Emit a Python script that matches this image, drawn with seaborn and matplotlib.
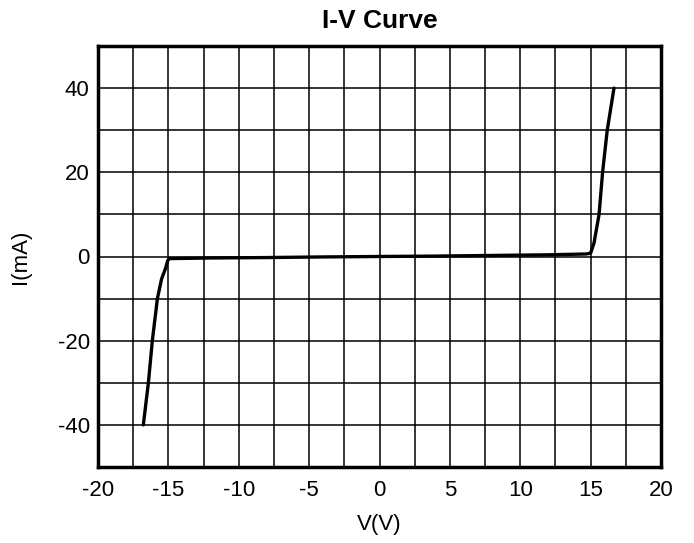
import matplotlib
matplotlib.use("Agg")
import matplotlib.pyplot as plt
import seaborn as sns
import pandas as pd
from matplotlib.ticker import MultipleLocator

voltage = [-16.78, -16.42, -16.14, -15.78, -15.48, -15.19, -15.05, -14.93,
           -12.0, -8.0, -4.0, 0.0, 4.0, 8.0, 12.0, 14.7, 15.0, 15.24, 15.6,
           15.85, 16.18, 16.66]
current = [-40, -30, -20, -10, -5.3, -2.7, -1.0, -0.5,
           -0.35, -0.25, -0.1, 0, 0.1, 0.25, 0.4, 0.6, 0.8, 3.2, 10,
           20, 30, 40]
x_ticks = [-20, -15, -10, -5, 0, 5, 10, 15, 20]
y_ticks = [-40, -20, 0, 20, 40]

df = pd.DataFrame({"V": voltage, "I": current})

sns.set_theme(style="white")
plt.rcParams['font.family'] = ['Liberation Sans', 'DejaVu Sans']
plt.rcParams['axes.unicode_minus'] = False

fig = plt.figure(figsize=(6.94, 5.43), dpi=100)
ax = fig.add_axes([98/694, 1-467/543, (661-98)/694, (467-46)/543])

sns.lineplot(data=df, x="V", y="I", sort=False, color="black", linewidth=2.4, ax=ax)

ax.set_xlim(-20, 20)
ax.set_ylim(-50, 50)
ax.set_xticks(x_ticks)
ax.set_yticks(y_ticks)
ax.xaxis.set_minor_locator(MultipleLocator(2.5))
ax.yaxis.set_minor_locator(MultipleLocator(10))
ax.grid(which="both", color="black", linewidth=1.1)
ax.set_axisbelow(True)
for s in ax.spines.values():
    s.set_color("black")
    s.set_linewidth(2.5)
ax.tick_params(which="both", length=0, labelsize=16, colors="black")
ax.tick_params(axis="y", pad=6)
ax.tick_params(axis="x", pad=9)
ax.set_xlabel("V(V)", fontsize=16, color="black", labelpad=10)
ax.set_ylabel("I(mA)", fontsize=16, color="black", labelpad=19)
ax.set_title("I-V Curve", fontsize=19, fontweight="bold", color="black", pad=13)

fig.savefig("out.png", dpi=100)
